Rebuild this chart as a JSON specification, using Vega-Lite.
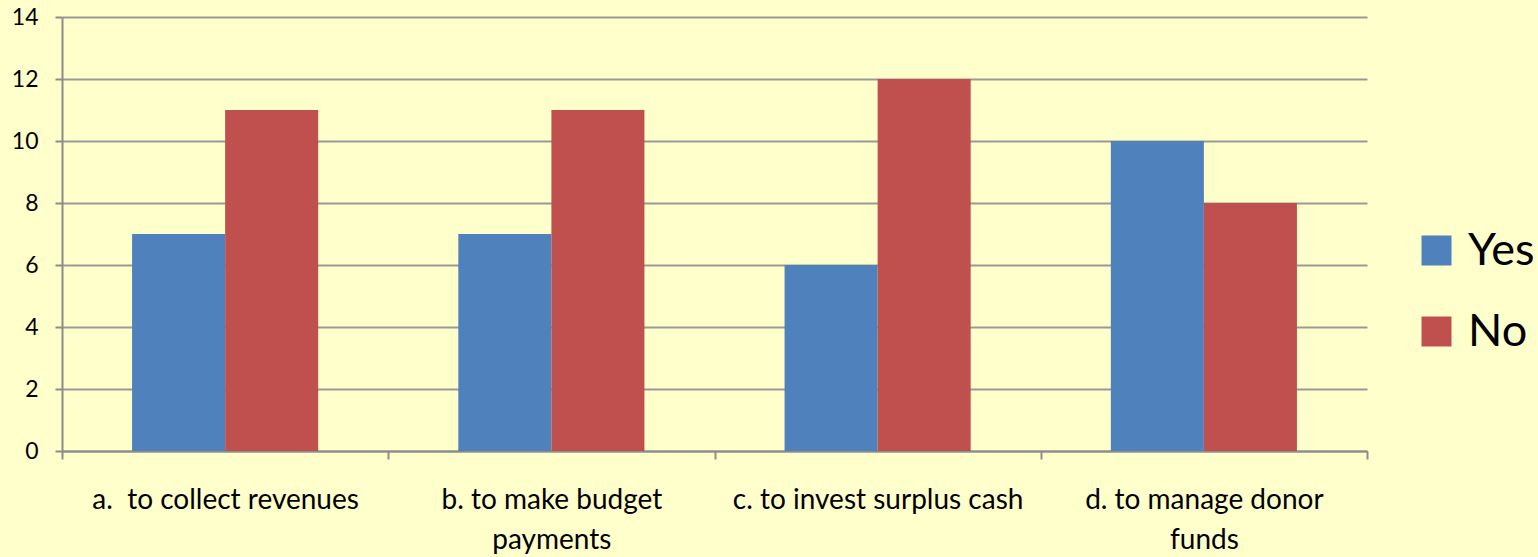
{
  "$schema": "https://vega.github.io/schema/vega-lite/v6.json",
  "autosize": {"type": "none"},
  "padding": {"left": 62, "top": 17, "right": 171, "bottom": 106},
  "width": 1305,
  "height": 434,
  "background": "#FFFFCC",
  "config": {
    "font": "Lato",
    "view": {"stroke": null}
  },
  "data": {
    "values": [
      {"category": "a.  to collect revenues", "series": "Yes", "value": 7},
      {"category": "a.  to collect revenues", "series": "No", "value": 11},
      {"category": "b. to make budget payments", "series": "Yes", "value": 7},
      {"category": "b. to make budget payments", "series": "No", "value": 11},
      {"category": "c. to invest surplus cash", "series": "Yes", "value": 6},
      {"category": "c. to invest surplus cash", "series": "No", "value": 12},
      {"category": "d. to manage donor funds", "series": "Yes", "value": 10},
      {"category": "d. to manage donor funds", "series": "No", "value": 8}
    ]
  },
  "mark": {"type": "bar"},
  "encoding": {
    "x": {
      "field": "category",
      "type": "nominal",
      "sort": null,
      "scale": {"paddingInner": 0, "paddingOuter": 0},
      "axis": {
        "title": null,
        "labelAngle": 0,
        "labelFontSize": 28,
        "labelColor": "#000000",
        "labelPadding": 27,
        "labelLineHeight": 40,
        "labelBaseline": "top",
        "labelLimit": 400,
        "tickBand": "extent",
        "tickSize": 8,
        "tickColor": "#8C8C8C",
        "tickWidth": 2,
        "domainColor": "#8C8C8C",
        "domainWidth": 2,
        "labelExpr": "datum.label == 'b. to make budget payments' ? ['b. to make budget', 'payments'] : datum.label == 'd. to manage donor funds' ? ['d. to manage donor', 'funds'] : datum.label == 'a.  to collect revenues' ? 'a.\u00a0 to collect revenues' : datum.label"
      }
    },
    "xOffset": {
      "field": "series",
      "type": "nominal",
      "sort": ["Yes", "No"],
      "scale": {"paddingInner": 0, "paddingOuter": 0.753}
    },
    "y": {
      "field": "value",
      "type": "quantitative",
      "scale": {"domain": [0, 14]},
      "axis": {
        "title": null,
        "values": [0, 2, 4, 6, 8, 10, 12, 14],
        "labelFontSize": 23,
        "labelColor": "#000000",
        "labelPadding": 17,
        "tickSize": 7,
        "tickColor": "#8C8C8C",
        "tickWidth": 2,
        "domainColor": "#8C8C8C",
        "domainWidth": 2,
        "gridColor": "#999999",
        "gridWidth": 2
      }
    },
    "color": {
      "field": "series",
      "type": "nominal",
      "sort": ["Yes", "No"],
      "scale": {"domain": ["Yes", "No"], "range": ["#4F81BD", "#C0504D"]},
      "legend": {
        "title": null,
        "orient": "none",
        "legendX": 1352,
        "legendY": 211,
        "symbolType": "square",
        "symbolSize": 900,
        "symbolStrokeWidth": 0,
        "labelFontSize": 45,
        "labelColor": "#000000",
        "labelOffset": 9,
        "rowPadding": 35,
        "padding": 0
      }
    }
  }
}
